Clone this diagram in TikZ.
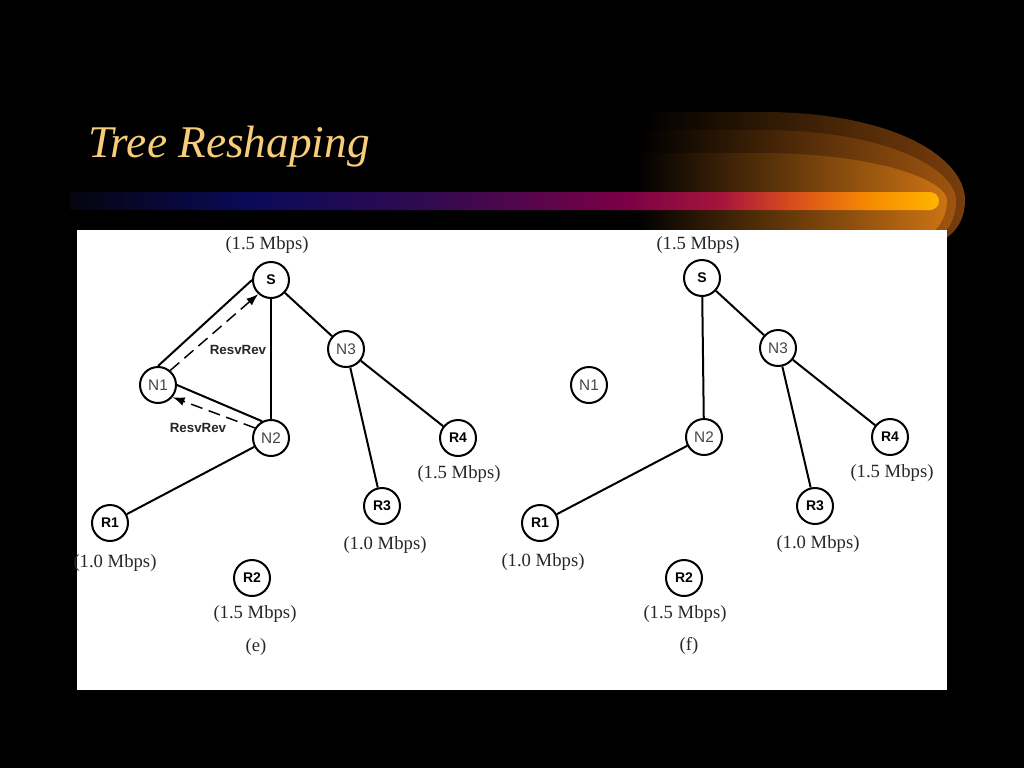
\documentclass[tikz,border=0pt]{standalone}
\usepackage{fontspec}
\setmainfont{Liberation Serif}
\setsansfont{Liberation Sans}
\usetikzlibrary{arrows.meta}
\definecolor{titlecol}{RGB}{248,204,120}
\definecolor{labcol}{RGB}{40,40,40}
\definecolor{ncol}{RGB}{70,70,70}
\definecolor{bc0}{RGB}{5,5,15}
\definecolor{bc1}{RGB}{10,10,90}
\definecolor{bc2}{RGB}{50,10,80}
\definecolor{bc3}{RGB}{120,0,70}
\definecolor{bc4}{RGB}{165,20,60}
\definecolor{bc5}{RGB}{215,75,30}
\definecolor{bc6}{RGB}{245,140,0}
\definecolor{bc7}{RGB}{255,180,0}
\definecolor{sw1}{RGB}{120,62,12}
\definecolor{sw2}{RGB}{160,85,15}
\definecolor{sw3}{RGB}{205,115,20}
\pgfdeclarehorizontalshading{barshade}{100bp}{color(0bp)=(bc0); color(25bp)=(bc0); color(35.3bp)=(bc1); color(45.7bp)=(bc2); color(56.6bp)=(bc3); color(62.4bp)=(bc4); color(66.4bp)=(bc5); color(71bp)=(bc6); color(75bp)=(bc7); color(100bp)=(bc7)}
\tikzset{
  nd/.style={circle,draw=black,line width=1.5pt,fill=white,minimum size=27pt,inner sep=0pt},
  bnode/.style={nd,font=\sffamily\bfseries\fontsize{10.5}{12}\selectfont},
  gnode/.style={nd,font=\sffamily\fontsize{11.5}{13}\selectfont,text=ncol},
  rate/.style={font=\fontsize{14}{16}\selectfont,text=labcol,inner sep=0pt},
  edge/.style={line width=1.5pt,black},
  rsvp/.style={line width=1.1pt,dash pattern=on 9pt off 5pt,-{Latex[length=9pt,width=6.5pt]}},
  rlab/.style={font=\sffamily\bfseries\fontsize{10}{12}\selectfont,text=black!85,inner sep=0pt},
}
\begin{document}
\begin{tikzpicture}[x=0.75pt,y=-0.75pt]
\useasboundingbox (0,0) rectangle (1024,768);
\fill[black] (0,0) rectangle (1024,768);
% swoosh layers
\shade[left color=black,right color=sw1] (642,112) -- (770,112) .. controls (900,114) and (965,160) .. (965,200) .. controls (965,225) and (950,240) .. (930,245) -- (642,245) -- cycle;
\shade[left color=black,right color=sw2] (640,130) -- (770,130) .. controls (895,132) and (956,172) .. (956,200) .. controls (956,222) and (945,238) .. (925,245) -- (640,245) -- cycle;
\shade[left color=black,right color=sw3] (636,153) -- (770,153) .. controls (885,155) and (947,182) .. (947,200) .. controls (947,220) and (935,235) .. (915,245) -- (636,245) -- cycle;
% bar
\shade[shading=barshade] (70,192) -- (930,192) arc[start angle=-90,end angle=90,radius=9] -- (70,210) -- cycle;
% title
\node[anchor=base west,inner sep=0pt,text=titlecol,font=\itshape\fontsize{34}{40}\selectfont] (title) at (88,157) {Tree Reshaping};
% white panel
\fill[white] (77,230) rectangle (947,690);

% ---------- panel (e)
\node[bnode] (eS) at (271,280) {S};
\node[gnode] (eN1) at (158,385) {N1};
\node[gnode] (eN2) at (271,438) {N2};
\node[gnode] (eN3) at (346,349) {N3};
\node[bnode] (eR4) at (458,438) {R4};
\node[bnode] (eR3) at (382,506) {R3};
\node[bnode] (eR1) at (110,523) {R1};
\node[bnode] (eR2) at (252,578) {R2};
\draw[edge] (eN1.north) -- (eS.west);
\draw[edge] (eS) -- (eN2);
\draw[edge] (eS) -- (eN3);
\draw[edge] (eN1.east) -- (eN2.118);
\draw[edge] (eN2) -- (eR1);
\draw[edge] (eN3) -- (eR3);
\draw[edge] (eN3) -- (eR4);
\draw[rsvp] (eN1.50) -- (eS.228);
\draw[rsvp] (eN2.148) -- (eN1.-40);
\node[rlab] (elab1) at (238,350) {ResvRev};
\node[rlab] (elab2) at (198,428) {ResvRev};
\node[rate] (erS) at (267,245) {(1.5 Mbps)};
\node[rate] (erR4) at (459,474) {(1.5 Mbps)};
\node[rate] (erR3) at (385,545) {(1.0 Mbps)};
\node[rate] (erR1) at (115,563) {(1.0 Mbps)};
\node[rate] (erR2) at (255,614) {(1.5 Mbps)};
\node[rate] (ecap) at (256,647) {(e)};

% ---------- panel (f)
\node[bnode] (fS) at (702,278) {S};
\node[gnode] (fN1) at (589,385) {N1};
\node[gnode] (fN2) at (704,437) {N2};
\node[gnode] (fN3) at (778,348) {N3};
\node[bnode] (fR4) at (890,437) {R4};
\node[bnode] (fR3) at (815,506) {R3};
\node[bnode] (fR1) at (540,523) {R1};
\node[bnode] (fR2) at (684,578) {R2};
\draw[edge] (fS) -- (fN2);
\draw[edge] (fS) -- (fN3);
\draw[edge] (fN2) -- (fR1);
\draw[edge] (fN3) -- (fR3);
\draw[edge] (fN3) -- (fR4);
\node[rate] (frS) at (698,245) {(1.5 Mbps)};
\node[rate] (frR4) at (892,473) {(1.5 Mbps)};
\node[rate] (frR3) at (818,544) {(1.0 Mbps)};
\node[rate] (frR1) at (543,562) {(1.0 Mbps)};
\node[rate] (frR2) at (685,614) {(1.5 Mbps)};
\node[rate] (fcap) at (689,646) {(f)};
\end{tikzpicture}
\end{document}
